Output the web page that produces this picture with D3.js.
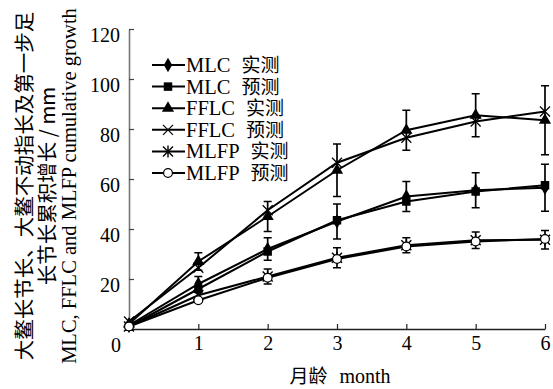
<!DOCTYPE html>
<html><head><meta charset="utf-8">
<script src="https://cdn.jsdelivr.net/npm/d3@7"></script>
<style>
body{margin:0;background:#fff;}
svg text{fill:#000;}
</style></head>
<body><svg id="c" width="553" height="389"></svg>
<script>
const months = [0,1,2,3,4,5,6];
const xTicks = [1,2,3,4,5,6];
const yTicks = [20,40,60,80,100,120];
const mlcObs  = [1.5,18,32,43,53,55.5,56.5];
const mlcErr  = [0,3,4.5,7,6,7,9.4];
const mlcPred = [1,16,31,43.5,51,55,57.5];
const fflcObs = [2,27,45,63.5,79.5,85.5,83.5];
const fflcErr = [0,3.5,6,10.5,8,8.6,13.8];
const fflcPred= [3,24.5,47.5,66.5,76.5,83,87];
const mlfpObs = [1,13.5,21,28.5,33.5,35.5,35.7];
const mlfpErr = [0,2,3,4,3,3.3,3.7];
const mlfpPred= [1,11.5,20.5,28,33,35,36];
const seriesNames = ["MLC","MLC","FFLC","FFLC","MLFP","MLFP"];
const seriesKinds = ["实测","预测","实测","预测","实测","预测"];
const xTitle = ["月龄","month"];
const yTitle = ["大鳌长节长、大鳌不动指长及第一步足","长节长累积增长 / mm","MLC, FFLC and MLFP cumulative growth"];

const SERIF = "'Liberation Serif','Times New Roman',serif";
const CJK = "'Noto Sans CJK SC','Noto Sans CJK JP',sans-serif";

const series = [
  {vals:mlcObs, err:mlcErr, sym:"diamond"},
  {vals:mlcPred, sym:"square"},
  {vals:fflcObs, err:fflcErr, sym:"triangle"},
  {vals:fflcPred, sym:"x"},
  {vals:mlfpObs, err:mlfpErr, sym:"star"},
  {vals:mlfpPred, sym:"circle"}
];

const svg = d3.select("#c");
const x = d3.scaleLinear().domain([0,6]).range([129,545]);
const y = d3.scaleLinear().domain([0,120]).range([329,29]);

function drawMarker(g, sym, cx, cy){
  if(sym==="diamond"){
    g.append("path").attr("d",d3.symbol(d3.symbolDiamond,60)()).attr("transform",`translate(${cx},${cy})`).attr("fill","#000");
  } else if(sym==="square"){
    g.append("path").attr("d",d3.symbol(d3.symbolSquare,72)()).attr("transform",`translate(${cx},${cy})`).attr("fill","#000");
  } else if(sym==="triangle"){
    g.append("path").attr("d",d3.symbol(d3.symbolTriangle,64)()).attr("transform",`translate(${cx},${cy})`).attr("fill","#000");
  } else if(sym==="x"){
    const s=5;
    g.append("path").attr("d",`M${cx-s},${cy-s}L${cx+s},${cy+s}M${cx-s},${cy+s}L${cx+s},${cy-s}`).attr("stroke","#000").attr("stroke-width",1.2);
  } else if(sym==="star"){
    const s=5;
    g.append("path").attr("d",`M${cx-s},${cy-s}L${cx+s},${cy+s}M${cx-s},${cy+s}L${cx+s},${cy-s}M${cx},${cy-s-1}L${cx},${cy+s+1}`).attr("stroke","#000").attr("stroke-width",1.4);
  } else if(sym==="circle"){
    g.append("circle").attr("cx",cx).attr("cy",cy).attr("r",4.4).attr("fill","#fff").attr("stroke","#000").attr("stroke-width",1.2);
  }
}

// axes
const yAxis = d3.axisLeft(y).tickValues(yTicks).tickFormat(d3.format("d")).tickSizeInner(-5).tickSizeOuter(0).tickPadding(9);
const gy = svg.append("g").attr("transform",`translate(${x(0)},0)`).call(yAxis);
gy.select(".domain").attr("stroke","#777").attr("stroke-width",1.6);
gy.selectAll(".tick line").attr("stroke","#444").attr("stroke-width",1.2);
gy.selectAll(".tick text").attr("dy","0.62em").style("font-size","20px").style("font-family",SERIF);

const xAxis = d3.axisBottom(x).tickValues(xTicks).tickFormat(d3.format("d")).tickSizeInner(-5).tickSizeOuter(0).tickPadding(7);
const gx = svg.append("g").attr("transform",`translate(0,${y(0)})`).call(xAxis);
gx.select(".domain").attr("stroke","#222").attr("stroke-width",1.4);
gx.selectAll(".tick line").attr("stroke","#222").attr("stroke-width",1.2);
gx.selectAll(".tick text").style("font-size","20px").style("font-family",SERIF);

// origin label
svg.append("text").attr("x",x(0)-8).attr("y",y(0)+23).attr("text-anchor","end").style("font-size","20px").style("font-family",SERIF).text("0");

// lines
const line = d3.line().x((d,i)=>x(months[i])).y(d=>y(d));
series.forEach(s=>{
  svg.append("path").attr("d",line(s.vals)).attr("fill","none").attr("stroke","#000").attr("stroke-width",2);
});
// error bars
series.forEach(s=>{
  if(!s.err) return;
  s.vals.forEach((v,i)=>{
    const e=s.err[i]; if(!e) return;
    const cx=x(months[i]), y1=y(v+e), y2=y(v-e);
    svg.append("path").attr("d",`M${cx},${y1}L${cx},${y2}M${cx-4},${y1}L${cx+4},${y1}M${cx-4},${y2}L${cx+4},${y2}`)
      .attr("stroke","#000").attr("stroke-width",1.7).attr("fill","none");
  });
});
// markers
series.forEach(s=>{
  const g=svg.append("g");
  s.vals.forEach((v,i)=>drawMarker(g,s.sym,x(months[i]),y(v)));
});

// legend
const lg = svg.append("g");
series.forEach((s,i)=>{
  const cy = 65 + 21.6*i;
  lg.append("line").attr("x1",152).attr("x2",185).attr("y1",cy).attr("y2",cy).attr("stroke","#000").attr("stroke-width",2);
  drawMarker(lg,s.sym,168,cy);
  const t = lg.append("text").attr("x",186).attr("y",cy+7).style("font-size","20.5px").style("font-family",SERIF);
  t.append("tspan").text(seriesNames[i]);
  t.append("tspan").attr("dx",11).style("font-family",CJK).style("font-size","19px").text(seriesKinds[i]);
});

// x title
const xt = svg.append("text").attr("x",340).attr("y",383).attr("text-anchor","middle").style("font-size","20px").style("font-family",SERIF);
xt.append("tspan").style("font-family",CJK).style("font-size","19px").text(xTitle[0]);
xt.append("tspan").attr("dx",12).text(xTitle[1]);

// y title
const ytg = svg.append("g").attr("transform","translate(0,186) rotate(-90)");
[[32,20.5,CJK],[55,20.5,CJK],[76,20.5,SERIF]].forEach((p,i)=>{
  ytg.append("text").attr("x",0).attr("y",p[0]).attr("text-anchor","middle").style("font-size",p[1]+"px").style("font-family",p[2]).text(yTitle[i]);
});
</script></body></html>
